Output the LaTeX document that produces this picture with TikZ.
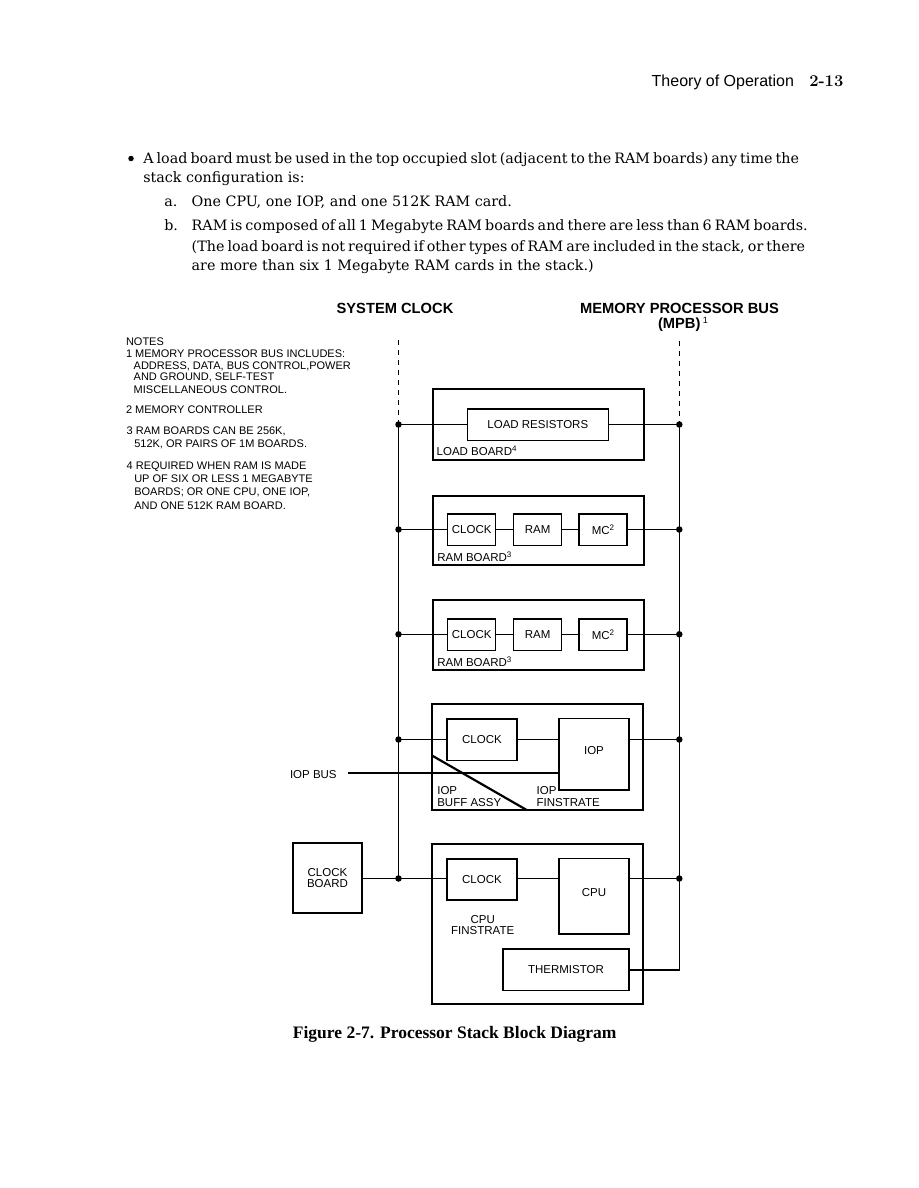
\documentclass[tikz,border=0pt]{standalone}
\usepackage{fontspec}
\newfontfamily\bodyfont{DejaVu Serif}
\newfontfamily\capfont{Liberation Serif}
\newfontfamily\hsans{Liberation Sans}
\newcommand\bodyf{\bodyfont\fontsize{14.3}{18}\selectfont}
\newcommand\lblf{\hsans\fontsize{11.5}{11.3}\selectfont}
\newcommand\notef{\hsans\fontsize{11}{12.5}\selectfont}
\newcommand\headf{\hsans\bfseries\fontsize{14.7}{16}\selectfont}
\newcommand\capf{\capfont\bfseries\fontsize{17.5}{20}\selectfont}
\newcommand\supnum[1]{\raisebox{3.8pt}{\hsans\mdseries\fontsize{8}{8}\selectfont #1}}
\newcommand\supbig[1]{\raisebox{5pt}{\hsans\mdseries\fontsize{9}{9}\selectfont #1}}
\begin{document}
\begin{tikzpicture}[x=1pt,y=-1pt,
  txt/.style={inner sep=0pt, outer sep=0pt},
  board/.style={draw, line width=2pt, inner sep=0pt},
  blk/.style={draw, line width=1.3pt, inner sep=0pt, font=\lblf},
  wire/.style={line width=1.4pt},
  dot/.style={circle, fill, inner sep=0pt, minimum size=6.5pt},
  dsh/.style={line width=1.4pt, dash pattern=on 5pt off 5pt}]
\fill[white] (0,0) rectangle (918,1188);

% page header
\node[txt, anchor=base west] (h1) at (651.7,86.7) {\hsans\fontsize{16}{18}\selectfont Theory of Operation};
\node[txt, anchor=base east] (h2) at (843.3,86.7) {\fontsize{16.5}{18}\selectfont\bfseries 2-13};

% body text
\node[txt, circle, fill, minimum size=5.5pt] (b0) at (131,158.5) {};
\node[txt, anchor=base west, font=\bodyf] (b1) at (143.3,163) {\makebox[653.4pt][s]{A load board must be used in the top occupied slot (adjacent to the RAM boards) any time the}};
\node[txt, anchor=base west, font=\bodyf] (b2) at (143.3,182) {stack configuration is:};
\node[txt, anchor=base west, font=\bodyf] (b3a) at (164.3,206) {a.};
\node[txt, anchor=base west, font=\bodyf] (b3) at (191.7,206) {One CPU, one IOP, and one 512K RAM card.};
\node[txt, anchor=base west, font=\bodyf] (b4a) at (164.3,230.5) {b.};
\node[txt, anchor=base west, font=\bodyf] (b4) at (191.7,230.5) {\makebox[607.6pt][s]{RAM is composed of all 1 Megabyte RAM boards and there are less than 6 RAM boards.}};
\node[txt, anchor=base west, font=\bodyf] (b5) at (191.7,251) {\makebox[610pt][s]{(The load board is not required if other types of RAM are included in the stack, or there}};
\node[txt, anchor=base west, font=\bodyf] (b6) at (191.7,270.5) {are more than six 1 Megabyte RAM cards in the stack.)};

% headings
\node[txt, anchor=base, font=\headf] (sch) at (395,313.3) {SYSTEM CLOCK};
\node[txt, anchor=base, font=\headf] (mph) at (679.5,313.3) {MEMORY PROCESSOR BUS};
\node[txt, anchor=base west, font=\headf] (mpb) at (658,328) {(MPB)\,\supbig{1}};

% notes
\node[txt, anchor=base west, font=\notef] (n0) at (126,345) {NOTES};
\node[txt, anchor=base west, font=\notef] (n1) at (126,357.3) {1 MEMORY PROCESSOR BUS INCLUDES:};
\node[txt, anchor=base west, font=\notef] (n2) at (133.7,369) {ADDRESS, DATA, BUS CONTROL,POWER};
\node[txt, anchor=base west, font=\notef] (n3) at (133.7,380.7) {AND GROUND, SELF-TEST};
\node[txt, anchor=base west, font=\notef] (n4) at (133.7,393.3) {MISCELLANEOUS CONTROL.};
\node[txt, anchor=base west, font=\notef] (n5) at (126,413.3) {2 MEMORY CONTROLLER};
\node[txt, anchor=base west, font=\notef] (n6) at (126.7,434) {3 RAM BOARDS CAN BE 256K,};
\node[txt, anchor=base west, font=\notef] (n7) at (134.3,447.3) {512K, OR PAIRS OF 1M BOARDS.};
\node[txt, anchor=base west, font=\notef] (n8) at (126.7,469) {4 REQUIRED WHEN RAM IS MADE};
\node[txt, anchor=base west, font=\notef] (n9) at (134.3,482.3) {UP OF SIX OR LESS 1 MEGABYTE};
\node[txt, anchor=base west, font=\notef] (n10) at (134.3,495.7) {BOARDS; OR ONE CPU, ONE IOP,};
\node[txt, anchor=base west, font=\notef] (n11) at (134.3,509) {AND ONE 512K RAM BOARD.};

% load board
\node[board, minimum width=211pt, minimum height=70.7pt] (lbd) at (538,424.7) {};
\node[blk, minimum width=141pt, minimum height=31.7pt] (lr) at (537.8,424.8) {LOAD RESISTORS};
\node[txt, anchor=base west, font=\lblf] (lbl1) at (436.7,455) {LOAD BOARD\supnum{4}};

% RAM board 1
\node[board, minimum width=211pt, minimum height=69.5pt] (rb1) at (538,530.3) {};
\node[blk, minimum width=48pt, minimum height=31.7pt] (ck1) at (471.7,529.8) {CLOCK};
\node[blk, minimum width=48pt, minimum height=31.7pt] (ram1) at (537.7,529.8) {RAM};
\node[blk, minimum width=48pt, minimum height=31.7pt] (mc1) at (603,529.8) {MC\supnum{2}};
\node[txt, anchor=base west, font=\lblf] (lbl2) at (437.3,561.5) {RAM BOARD\supnum{3}};

% RAM board 2
\node[board, minimum width=211pt, minimum height=69.5pt] (rb2) at (538,635) {};
\node[blk, minimum width=48pt, minimum height=31.7pt] (ck2) at (471.7,634.7) {CLOCK};
\node[blk, minimum width=48pt, minimum height=31.7pt] (ram2) at (537.7,634.7) {RAM};
\node[blk, minimum width=48pt, minimum height=31.7pt] (mc2) at (603,634.7) {MC\supnum{2}};
\node[txt, anchor=base west, font=\lblf] (lbl3) at (437.3,666) {RAM BOARD\supnum{3}};

% IOP board
\node[board, minimum width=210.7pt, minimum height=105.7pt] (iopb) at (537.7,757.2) {};
\node[blk, minimum width=70pt, minimum height=41.7pt] (ck3) at (482,739.8) {CLOCK};
\node[blk, minimum width=70pt, minimum height=71.3pt] (iop) at (594,754.3) {};
\node[txt, font=\lblf] (iopt) at (594,751) {IOP};
\node[txt, anchor=base west, font=\lblf] (ia1) at (437.3,794) {IOP};
\node[txt, anchor=base west, font=\lblf] (ia2) at (437.3,806.5) {BUFF ASSY};
\node[txt, anchor=base west, font=\lblf] (if1) at (536.7,794) {IOP};
\node[txt, anchor=base west, font=\lblf] (if2) at (536.7,806.5) {FINSTRATE};
\coordinate (dg1) at (432.3,755.7);
\coordinate (dg2) at (526.7,810);
\draw[line width=2.2pt] (dg1) -- (dg2);

% CPU board
\node[board, minimum width=211pt, minimum height=160pt] (cpub) at (537.5,924) {};
\node[blk, minimum width=70pt, minimum height=41pt] (ck4) at (482,879.5) {CLOCK};
\node[blk, minimum width=70pt, minimum height=75.3pt] (cpu) at (594,896.3) {};
\node[txt, font=\lblf] (cput) at (594,892.7) {CPU};
\node[blk, minimum width=126pt, minimum height=41.7pt] (th) at (566,969.8) {THERMISTOR};
\node[txt, anchor=base, font=\lblf] (cf1) at (482.7,923.4) {CPU};
\node[txt, anchor=base, font=\lblf] (cf2) at (482.7,934.8) {FINSTRATE};

% clock board
\node[board, minimum width=69.6pt, minimum height=70pt, align=center, font=\lblf] (cb) at (327.5,878.3) {CLOCK\\BOARD};

% bus junctions
\node[dot] (jl1) at (398.5,424.5) {};
\node[dot] (jl2) at (398.5,529.5) {};
\node[dot] (jl3) at (398.5,634.3) {};
\node[dot] (jl4) at (398.5,739.5) {};
\node[dot] (jl5) at (398.5,878.5) {};
\node[dot] (jr1) at (679.3,424.5) {};
\node[dot] (jr2) at (679.3,529.5) {};
\node[dot] (jr3) at (679.3,634.3) {};
\node[dot] (jr4) at (679.3,739.5) {};
\node[dot] (jr5) at (679.3,878.5) {};

% dashed bus tops
\coordinate (sctop) at (398.5,340);
\coordinate (mptop) at (679.3,341);
\draw[dsh] (sctop) -- (jl1.center);
\draw[dsh] (mptop) -- (jr1.center);

% buses
\draw[wire] (jl1.center) -- (jl5.center);
\draw[wire] (jr1.center) -- (jr5.center) -- (jr5 |- th.east) -- (th.east);

% load board wiring
\draw[wire] (jl1.center) -- (lr.west |- jl1.center);
\draw[wire] (lr.east |- jr1.center) -- (jr1.center);

% RAM 1 wiring
\draw[wire] (jl2.center) -- (ck1.west |- jl2.center);
\draw[wire] (ck1.east |- jl2.center) -- (ram1.west |- jl2.center);
\draw[wire] (ram1.east |- jl2.center) -- (mc1.west |- jl2.center);
\draw[wire] (mc1.east |- jr2.center) -- (jr2.center);

% RAM 2 wiring
\draw[wire] (jl3.center) -- (ck2.west |- jl3.center);
\draw[wire] (ck2.east |- jl3.center) -- (ram2.west |- jl3.center);
\draw[wire] (ram2.east |- jl3.center) -- (mc2.west |- jl3.center);
\draw[wire] (mc2.east |- jr3.center) -- (jr3.center);

% IOP wiring
\draw[wire] (jl4.center) -- (ck3.west |- jl4.center);
\draw[wire] (ck3.east |- jl4.center) -- (iop.west |- jl4.center);
\draw[wire] (iop.east |- jr4.center) -- (jr4.center);
\coordinate (ibs) at (348,773);
\draw[wire] (ibs) -- (iop.west |- ibs);
\node[txt, anchor=base west, font=\lblf] (ibl) at (290,778) {IOP BUS};

% CPU wiring
\draw[wire] (cb.east |- jl5.center) -- (jl5.center) -- (ck4.west |- jl5.center);
\draw[wire] (ck4.east |- jl5.center) -- (cpu.west |- jl5.center);
\draw[wire] (cpu.east |- jr5.center) -- (jr5.center);

% caption
\node[txt, anchor=base, font=\capf] (cap) at (454.7,1038.3) {Figure 2-7. Processor Stack Block Diagram};
\end{tikzpicture}
\end{document}
